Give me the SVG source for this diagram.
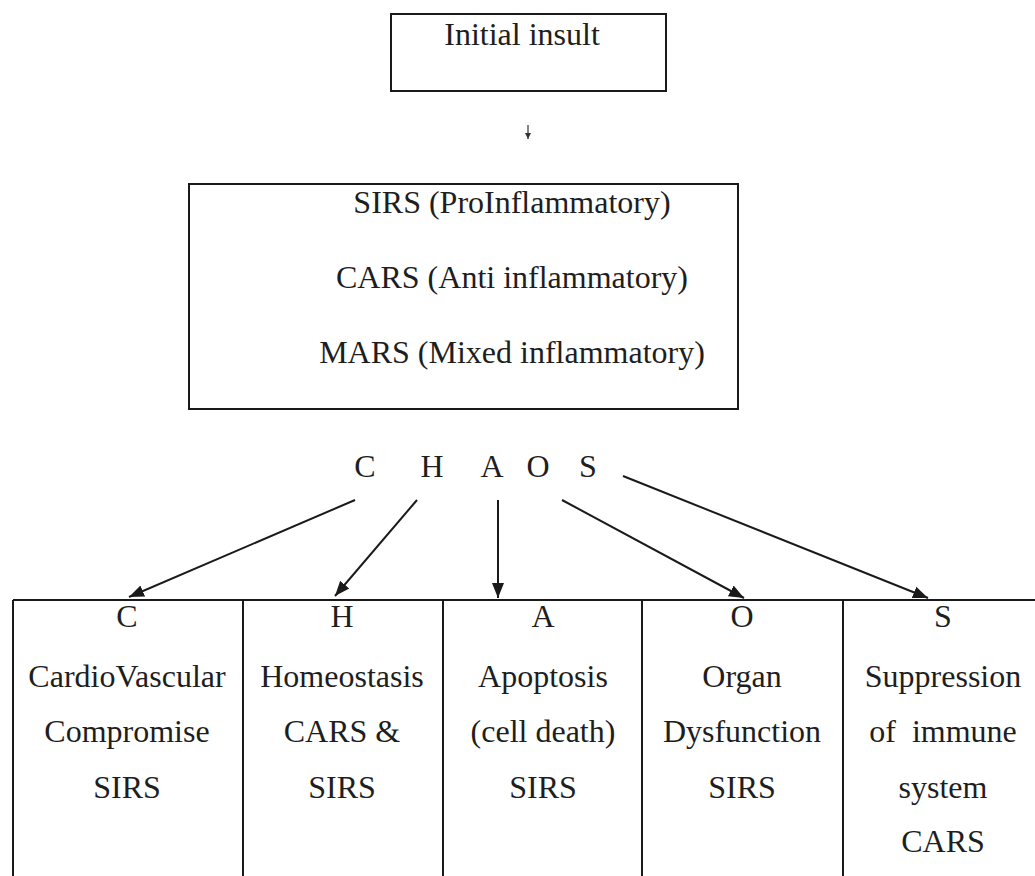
<svg xmlns="http://www.w3.org/2000/svg" width="1035" height="876" viewBox="0 0 1035 876">
<style>
  text { font-family: "Liberation Serif", "Times New Roman", serif; font-size: 32px; fill: #1e1e1e; text-anchor: middle; }
  .box { fill: none; stroke: #1a1a1a; stroke-width: 2; }
  .conn { stroke: #1a1a1a; stroke-width: 2; fill: none; marker-end: url(#ah); }
  .small { stroke: #333; stroke-width: 1.2; fill: none; marker-end: url(#ahs); }
</style>
<defs>
  <marker id="ah" markerUnits="userSpaceOnUse" markerWidth="16" markerHeight="14" refX="15" refY="6" orient="auto" viewBox="0 0 16 12">
    <path d="M0,0 L15,6 L0,12 z" fill="#1a1a1a"/>
  </marker>
  <marker id="ahs" markerUnits="userSpaceOnUse" markerWidth="6" markerHeight="6" refX="6" refY="3" orient="auto" viewBox="0 0 6 6">
    <path d="M0,0 L6,3 L0,6 z" fill="#333"/>
  </marker>
</defs>
<rect width="1035" height="876" fill="#ffffff"/>

<g id="initial-insult">
  <rect class="box" x="391" y="14" width="275" height="77"/>
  <text x="522" y="45">Initial insult</text>
</g>

<g id="responses">
  <rect class="box" x="189" y="184" width="549" height="225"/>
  <text x="512" y="213">SIRS (ProInflammatory)</text>
  <text x="512" y="288">CARS (Anti inflammatory)</text>
  <text x="512" y="363">MARS (Mixed inflammatory)</text>
</g>

<g id="chaos">
  <text x="365" y="477">C</text>
  <text x="432" y="477">H</text>
  <text x="492" y="477">A</text>
  <text x="538" y="477">O</text>
  <text x="588" y="477">S</text>
</g>

<g id="table-frame">
  <line x1="13" y1="600" x2="1035" y2="600" stroke="#1a1a1a" stroke-width="2"/>
  <line x1="13" y1="600" x2="13" y2="876" stroke="#1a1a1a" stroke-width="2"/>
</g>

<g id="col-c">
  <line x1="243" y1="600" x2="243" y2="876" stroke="#1a1a1a" stroke-width="2"/>
  <text x="127" y="627">C</text>
  <text x="127" y="687">CardioVascular</text>
  <text x="127" y="742">Compromise</text>
  <text x="127" y="798">SIRS</text>
</g>

<g id="col-h">
  <line x1="443" y1="600" x2="443" y2="876" stroke="#1a1a1a" stroke-width="2"/>
  <text x="342" y="627">H</text>
  <text x="342" y="687">Homeostasis</text>
  <text x="342" y="742">CARS &amp;</text>
  <text x="342" y="798">SIRS</text>
</g>

<g id="col-a">
  <line x1="642" y1="600" x2="642" y2="876" stroke="#1a1a1a" stroke-width="2"/>
  <text x="543" y="627">A</text>
  <text x="543" y="687">Apoptosis</text>
  <text x="543" y="742">(cell death)</text>
  <text x="543" y="798">SIRS</text>
</g>

<g id="col-o">
  <line x1="843" y1="600" x2="843" y2="876" stroke="#1a1a1a" stroke-width="2"/>
  <text x="742" y="627">O</text>
  <text x="742" y="687">Organ</text>
  <text x="742" y="742">Dysfunction</text>
  <text x="742" y="798">SIRS</text>
</g>

<g id="col-s">
  <text x="943" y="627">S</text>
  <text x="943" y="687">Suppression</text>
  <text x="943" y="742" xml:space="preserve">of  immune</text>
  <text x="943" y="798">system</text>
  <text x="943" y="852">CARS</text>
</g>

<g id="connectors">
  <line class="small" x1="528" y1="125" x2="528" y2="139"/>
  <line class="conn" x1="355" y1="500" x2="129" y2="597"/>
  <line class="conn" x1="417" y1="500" x2="335" y2="596"/>
  <line class="conn" x1="498" y1="500" x2="498" y2="598"/>
  <line class="conn" x1="562" y1="500" x2="744" y2="598"/>
  <line class="conn" x1="623" y1="476" x2="928" y2="598"/>
</g>
</svg>
